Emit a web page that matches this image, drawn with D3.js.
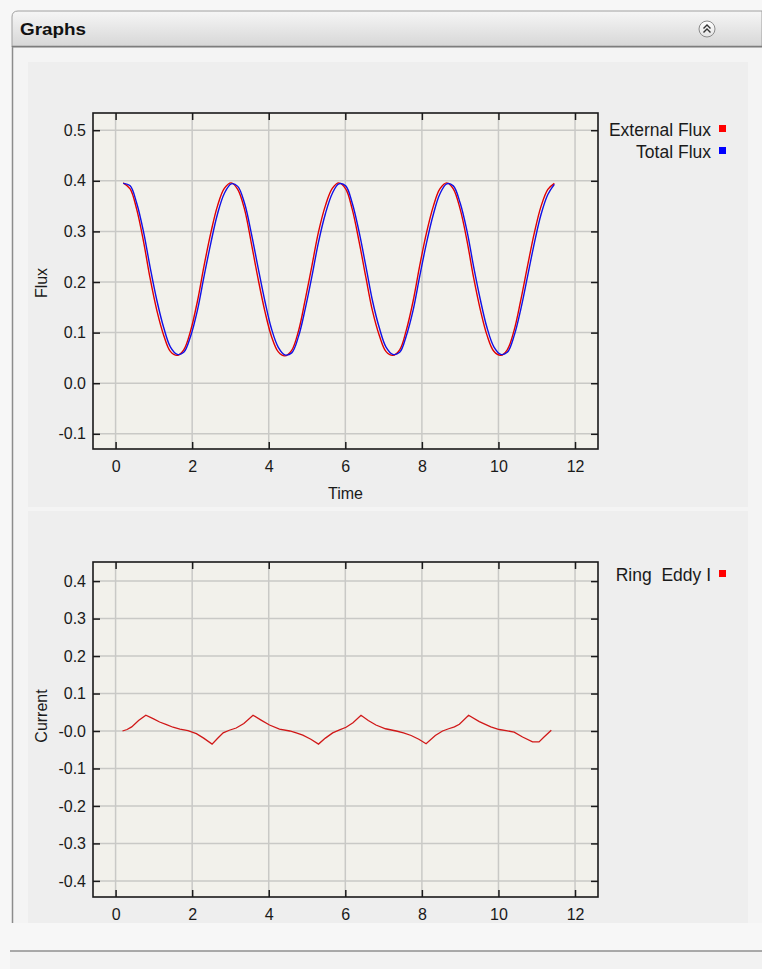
<!DOCTYPE html>
<html>
<head>
<meta charset="utf-8">
<script src="https://cdn.jsdelivr.net/npm/d3@7"></script>
<style>
  html, body { margin: 0; padding: 0; background: #f4f4f4; }
  svg { display: block; }
  text { font-family: "Liberation Sans", Arial, sans-serif; }
</style>
</head>
<body>
<svg id="chart" width="762" height="969"></svg>
<script>
// ---- data ----
const fluxTime = [0.20, 0.38, 0.55, 0.73, 0.90, 1.08, 1.26, 1.43, 1.61, 1.78, 1.96, 2.14, 2.31, 2.49, 2.66, 2.84,
  3.02, 3.19, 3.37, 3.54, 3.72, 3.90, 4.07, 4.25, 4.42, 4.60, 4.78, 4.95, 5.13, 5.30, 5.48, 5.66,
  5.83, 6.01, 6.18, 6.36, 6.54, 6.71, 6.89, 7.06, 7.24, 7.42, 7.59, 7.77, 7.94, 8.12, 8.30, 8.47,
  8.65, 8.82, 9.00, 9.18, 9.35, 9.53, 9.70, 9.88, 10.06, 10.23, 10.41, 10.58, 10.76, 10.94, 11.11, 11.29,
  11.46];

const externalFlux = [0.396, 0.384, 0.344, 0.280, 0.208, 0.143, 0.094, 0.063, 0.055, 0.066, 0.104, 0.163, 0.232, 0.298, 0.350, 0.385,
  0.396, 0.383, 0.343, 0.279, 0.207, 0.142, 0.093, 0.062, 0.054, 0.065, 0.104, 0.164, 0.233, 0.299, 0.351, 0.385,
  0.396, 0.384, 0.344, 0.280, 0.208, 0.143, 0.094, 0.063, 0.055, 0.066, 0.104, 0.162, 0.231, 0.297, 0.350, 0.384,
  0.396, 0.384, 0.344, 0.281, 0.209, 0.144, 0.095, 0.063, 0.055, 0.066, 0.105, 0.163, 0.232, 0.298, 0.349, 0.383,
  0.395];

const totalFlux = [0.395, 0.390, 0.356, 0.299, 0.230, 0.163, 0.109, 0.072, 0.057, 0.061, 0.093, 0.145, 0.211, 0.278, 0.334, 0.375,
  0.394, 0.389, 0.355, 0.298, 0.229, 0.162, 0.108, 0.071, 0.056, 0.060, 0.093, 0.146, 0.212, 0.279, 0.335, 0.375,
  0.394, 0.390, 0.356, 0.299, 0.230, 0.163, 0.109, 0.072, 0.057, 0.061, 0.093, 0.144, 0.210, 0.277, 0.334, 0.374,
  0.394, 0.390, 0.356, 0.300, 0.231, 0.164, 0.110, 0.072, 0.057, 0.061, 0.094, 0.145, 0.211, 0.278, 0.333, 0.373,
  0.393];

const eddyTime = [0.18, 0.30, 0.42, 0.60, 0.79, 0.98, 1.15, 1.33, 1.50, 1.68, 1.89, 2.11, 2.30, 2.52,
  2.66, 2.81, 2.97, 3.15, 3.35, 3.59, 3.80, 4.02, 4.28, 4.55, 4.72, 4.89, 5.10, 5.30,
  5.48, 5.67, 5.85, 6.02, 6.20, 6.41, 6.60, 6.80, 7.05, 7.33, 7.52, 7.72, 7.92, 8.11,
  8.35, 8.54, 8.70, 8.85, 8.98, 9.22, 9.50, 9.80, 10.02, 10.20, 10.41, 10.63, 10.89, 11.06, 11.19, 11.38];

const eddyCurrent = [0.000, 0.004, 0.011, 0.028, 0.042, 0.033, 0.024, 0.017, 0.010, 0.005, 0.001, -0.007, -0.019, -0.035,
  -0.020, -0.005, 0.002, 0.008, 0.020, 0.042, 0.029, 0.016, 0.005, 0.000, -0.005, -0.011, -0.022, -0.035,
  -0.019, -0.005, 0.003, 0.010, 0.022, 0.042, 0.028, 0.016, 0.006, 0.000, -0.005, -0.012, -0.022, -0.034,
  -0.012, 0.000, 0.006, 0.011, 0.018, 0.042, 0.025, 0.011, 0.004, 0.001, -0.003, -0.016, -0.029, -0.029, -0.016, 0.002];

const timeTicks = [0, 2, 4, 6, 8, 10, 12];
const fluxTicks = [0.5, 0.4, 0.3, 0.2, 0.1, 0.0, -0.1];
const fluxTickLabels = ["0.5", "0.4", "0.3", "0.2", "0.1", "0.0", "-0.1"];
const currentTicks = [0.4, 0.3, 0.2, 0.1, 0.0, -0.1, -0.2, -0.3, -0.4];
const currentTickLabels = ["0.4", "0.3", "0.2", "0.1", "-0.0", "-0.1", "-0.2", "-0.3", "-0.4"];

const fluxSeries = [
  { name: "External Flux", values: externalFlux, color: "#e00000", swatch: "#ff0000" },
  { name: "Total Flux", values: totalFlux, color: "#1010e6", swatch: "#0000ff" }
];
const currentSeries = [
  { name: "Ring  Eddy I", values: eddyCurrent, color: "#d01818", swatch: "#ff0000" }
];

// ---- page frame ----
const svg = d3.select("#chart");
const defs = svg.append("defs");
const hdrGrad = defs.append("linearGradient").attr("id", "hdr").attr("x1", 0).attr("y1", 0).attr("x2", 0).attr("y2", 1);
hdrGrad.append("stop").attr("offset", "0%").attr("stop-color", "#f6f6f6");
hdrGrad.append("stop").attr("offset", "100%").attr("stop-color", "#d6d6d6");
const btnGrad = defs.append("linearGradient").attr("id", "btn").attr("x1", 0).attr("y1", 0).attr("x2", 0).attr("y2", 1);
btnGrad.append("stop").attr("offset", "0%").attr("stop-color", "#ffffff");
btnGrad.append("stop").attr("offset", "100%").attr("stop-color", "#e2e2e2");

svg.append("rect").attr("x", 0).attr("y", 0).attr("width", 762).attr("height", 969).attr("fill", "#f7f7f7");
// body of the panel
svg.append("rect").attr("x", 12).attr("y", 46).attr("width", 750).attr("height", 877).attr("fill", "#f4f4f4");
svg.append("rect").attr("x", 28).attr("y", 62).attr("width", 720).attr("height", 861).attr("fill", "#eeeeee");
svg.append("rect").attr("x", 28).attr("y", 507).attr("width", 720).attr("height", 4).attr("fill", "#f4f4f4");
svg.append("line").attr("x1", 12.5).attr("x2", 12.5).attr("y1", 46).attr("y2", 923)
  .attr("stroke", "#8c8c8c").attr("stroke-width", 1.5);
// footer strip
svg.append("rect").attr("x", 10).attr("y", 951).attr("width", 752).attr("height", 18).attr("fill", "#f2f2f2");
svg.append("line").attr("x1", 10).attr("x2", 762).attr("y1", 951).attr("y2", 951)
  .attr("stroke", "#8f8f8f").attr("stroke-width", 1.5);

// header bar
svg.append("path")
  .attr("d", "M12,47 L12,17 Q12,11 18,11 L762,11 L762,47 Z")
  .attr("fill", "url(#hdr)").attr("stroke", "#a0a0a0").attr("stroke-width", 1);
svg.append("line").attr("x1", 12).attr("x2", 762).attr("y1", 46.5).attr("y2", 46.5)
  .attr("stroke", "#7d7d7d").attr("stroke-width", 1.5);
svg.append("text").attr("x", 20).attr("y", 35).text("Graphs")
  .attr("font-size", 16.5).attr("font-weight", "bold").attr("fill", "#111")
  .attr("textLength", 66).attr("lengthAdjust", "spacingAndGlyphs");
const btn = svg.append("g").attr("transform", "translate(707,29)");
btn.append("circle").attr("r", 8).attr("fill", "url(#btn)").attr("stroke", "#8a8a8a").attr("stroke-width", 1);
btn.append("path").attr("d", "M-3.5,-0.5 L0,-4 L3.5,-0.5 M-3.5,3.5 L0,0 L3.5,3.5")
  .attr("fill", "none").attr("stroke", "#333").attr("stroke-width", 1.4);

// ---- plot helper ----
function drawPlot(opt) {
  const x = d3.scaleLinear().domain([-0.59, 12.6]).range([opt.left, opt.right]);
  const y = d3.scaleLinear().domain(opt.yDomain).range([opt.bottom, opt.top]);
  const g = svg.append("g");
  const w = opt.right - opt.left, h = opt.bottom - opt.top;

  g.append("rect").attr("x", opt.left).attr("y", opt.top).attr("width", w).attr("height", h).attr("fill", "#f2f1eb");

  // grid
  g.append("g").selectAll("line").data(timeTicks).join("line")
    .attr("x1", d => x(d)).attr("x2", d => x(d)).attr("y1", opt.top).attr("y2", opt.bottom)
    .attr("stroke", "#c9c9c6").attr("stroke-width", 1.5);
  g.append("g").selectAll("line").data(opt.yTicks).join("line")
    .attr("x1", opt.left).attr("x2", opt.right).attr("y1", d => y(d)).attr("y2", d => y(d))
    .attr("stroke", "#c9c9c6").attr("stroke-width", 1.5);

  // series
  const line = d3.line().x((d, i) => x(opt.time[i])).y(d => y(d)).curve(opt.curve);
  opt.series.forEach(s => {
    g.append("path").datum(s.values).attr("d", line)
      .attr("fill", "none").attr("stroke", s.color).attr("stroke-width", opt.lineWidth);
  });

  // axes with inward ticks on all four sides
  const tickStyle = sel => {
    sel.select(".domain").remove();
    sel.selectAll(".tick line").attr("stroke", "#1a1a1a").attr("stroke-width", 1.5);
    sel.selectAll(".tick text").attr("font-size", 16).attr("fill", "#1a1a1a")
      .attr("font-family", "'Liberation Sans', Arial, sans-serif");
  };
  g.append("g").attr("transform", `translate(0,${opt.bottom})`)
    .call(d3.axisBottom(x).tickValues(timeTicks).tickSizeInner(-7).tickSizeOuter(0).tickPadding(12).tickFormat(d3.format("d")))
    .call(tickStyle);
  g.append("g").attr("transform", `translate(0,${opt.top})`)
    .call(d3.axisTop(x).tickValues(timeTicks).tickSizeInner(-7).tickSizeOuter(0).tickFormat(""))
    .call(tickStyle);
  g.append("g").attr("transform", `translate(${opt.left},0)`)
    .call(d3.axisLeft(y).tickValues(opt.yTicks).tickSizeInner(-7).tickSizeOuter(0).tickPadding(7)
      .tickFormat((d, i) => opt.yLabels[i]))
    .call(tickStyle);
  g.append("g").attr("transform", `translate(${opt.right},0)`)
    .call(d3.axisRight(y).tickValues(opt.yTicks).tickSizeInner(-7).tickSizeOuter(0).tickFormat(""))
    .call(tickStyle);

  g.append("rect").attr("x", opt.left).attr("y", opt.top).attr("width", w).attr("height", h)
    .attr("fill", "none").attr("stroke", "#1a1a1a").attr("stroke-width", 1.6);

  // axis titles
  g.append("text").attr("transform", `translate(47,${opt.yTitleCenter}) rotate(-90)`)
    .attr("text-anchor", "middle").attr("font-size", 16).attr("fill", "#1a1a1a").text(opt.yTitle);
  if (opt.xTitle) {
    g.append("text").attr("x", (opt.left + opt.right) / 2).attr("y", opt.bottom + 50)
      .attr("text-anchor", "middle").attr("font-size", 16).attr("fill", "#1a1a1a").text(opt.xTitle);
  }

  // legend
  const lg = g.append("g");
  opt.series.forEach((s, i) => {
    const by = opt.legendY + i * 22;
    lg.append("text").attr("x", 711).attr("y", by).attr("text-anchor", "end")
      .attr("font-size", 17.5).attr("fill", "#1a1a1a").attr("xml:space", "preserve")
      .style("white-space", "pre").text(s.name);
    lg.append("rect").attr("x", 719).attr("y", by - 11).attr("width", 7).attr("height", 7).attr("fill", s.swatch);
  });
}

drawPlot({
  left: 93, right: 598, top: 113, bottom: 449,
  yDomain: [-0.13, 0.534], yTicks: fluxTicks, yLabels: fluxTickLabels,
  time: fluxTime, series: fluxSeries, curve: d3.curveCatmullRom, lineWidth: 1.4,
  yTitle: "Flux", yTitleCenter: 283, xTitle: "Time", legendY: 136
});

drawPlot({
  left: 93, right: 598, top: 562, bottom: 897,
  yDomain: [-0.443, 0.451], yTicks: currentTicks, yLabels: currentTickLabels,
  time: eddyTime, series: currentSeries, curve: d3.curveLinear, lineWidth: 1.3,
  yTitle: "Current", yTitleCenter: 716, xTitle: null, legendY: 581
});
</script>
</body>
</html>
